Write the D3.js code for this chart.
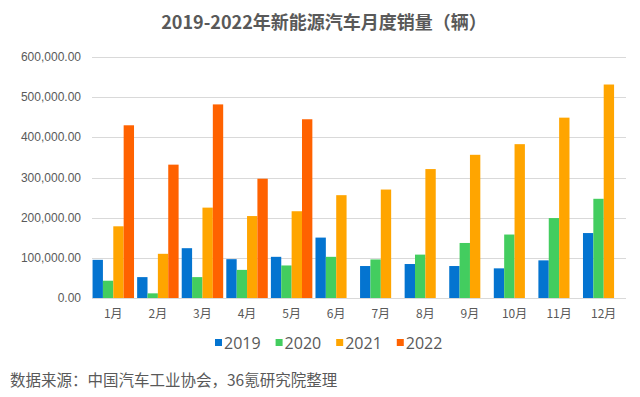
<!DOCTYPE html>
<html><head><meta charset="utf-8">
<script src="https://cdn.jsdelivr.net/npm/d3@7/dist/d3.min.js"></script>
<style>body{margin:0;background:#fff}svg{display:block}</style>
</head><body><svg id="c" width="640" height="397"></svg>
<script>
const months = ["1月","2月","3月","4月","5月","6月","7月","8月","9月","10月","11月","12月"];
const seriesNames = ["2019","2020","2021","2022"];
const s2019 = [95000, 52000, 124000, 96700, 102500, 150400, 79600, 84600, 79600, 73800, 93700, 161700];
const s2020 = [43000, 11600, 52000, 70000, 81000, 102500, 96000, 108000, 137000, 158000, 199000, 247000];
const s2021 = [178500, 110000, 225000, 204000, 216000, 256000, 270000, 321000, 356500, 383000, 449000, 531500];
const s2022 = [430000, 332000, 482000, 297000, 445000, null, null, null, null, null, null, null];
const yTicks = [0, 100000, 200000, 300000, 400000, 500000, 600000];
const colors = ["#0474d0", "#43cd5f", "#ffa500", "#ff6200"];
const title = "2019-2022年新能源汽车月度销量（辆）";
const source = "数据来源：中国汽车工业协会，36氪研究院整理";

const seriesVals = [s2019, s2020, s2021, s2022];
const svg = d3.select("#c");
const font = "'Liberation Sans', Arial, 'Noto Sans CJK SC', sans-serif";
const cjk = "'Noto Sans CJK SC', sans-serif";

const x = d3.scaleBand().domain(months).range([91, 626]).paddingInner(0.07).paddingOuter(0.035);
const xi = d3.scaleBand().domain(seriesNames).range([0, x.bandwidth()]);
const y = d3.scaleLinear().domain([0, 600000]).range([298, 57]);

// gridlines
svg.append("g").selectAll("line").data(yTicks).join("line")
  .attr("x1", 92).attr("x2", 626)
  .attr("y1", d => Math.round(y(d)) + 0.5).attr("y2", d => Math.round(y(d)) + 0.5)
  .attr("stroke", "#d9d9d9").attr("stroke-width", 1);

// y labels
const fmt = d3.format(",.2f");
svg.append("g").selectAll("text").data(yTicks).join("text")
  .attr("x", 81).attr("y", d => y(d) + 4)
  .attr("text-anchor", "end").attr("font-family", font).attr("font-size", 12)
  .attr("fill", "#595959").text(d => fmt(d));

// bars
const g = svg.append("g");
seriesNames.forEach((name, si) => {
  g.append("g").selectAll("rect")
    .data(months.map((m, i) => ({m, v: seriesVals[si][i]})).filter(d => d.v != null))
    .join("rect")
    .attr("x", d => x(d.m) + xi(name))
    .attr("width", xi.bandwidth())
    .attr("y", d => y(d.v))
    .attr("height", d => y(0) - y(d.v))
    .attr("fill", colors[si]);
});

// x labels
svg.append("g").selectAll("text").data(months).join("text")
  .attr("x", d => x(d) + x.bandwidth() / 2).attr("y", 318)
  .attr("text-anchor", "middle").attr("font-family", cjk).attr("font-size", 12)
  .attr("fill", "#595959").text(d => d);

// title
svg.append("text").attr("x", 324).attr("y", 29).attr("text-anchor", "middle")
  .attr("font-family", cjk).attr("font-weight", "bold").attr("font-size", 18)
  .attr("fill", "#595959").text(title);

// legend
const leg = svg.append("g");
let lx = 215;
seriesNames.forEach((name, i) => {
  leg.append("rect").attr("x", lx).attr("y", 339).attr("width", 7).attr("height", 7).attr("fill", colors[i]);
  const t = leg.append("text").attr("x", lx + 9).attr("y", 349)
    .attr("font-family", "'Open Sans', sans-serif").attr("font-size", 16).attr("fill", "#595959").text(name);
  lx += 9 + t.node().getComputedTextLength() + 15;
});

// source
svg.append("text").attr("x", 10).attr("y", 386)
  .attr("font-family", cjk).attr("font-size", 15.5).attr("fill", "#595959").text(source);
</script></body></html>
